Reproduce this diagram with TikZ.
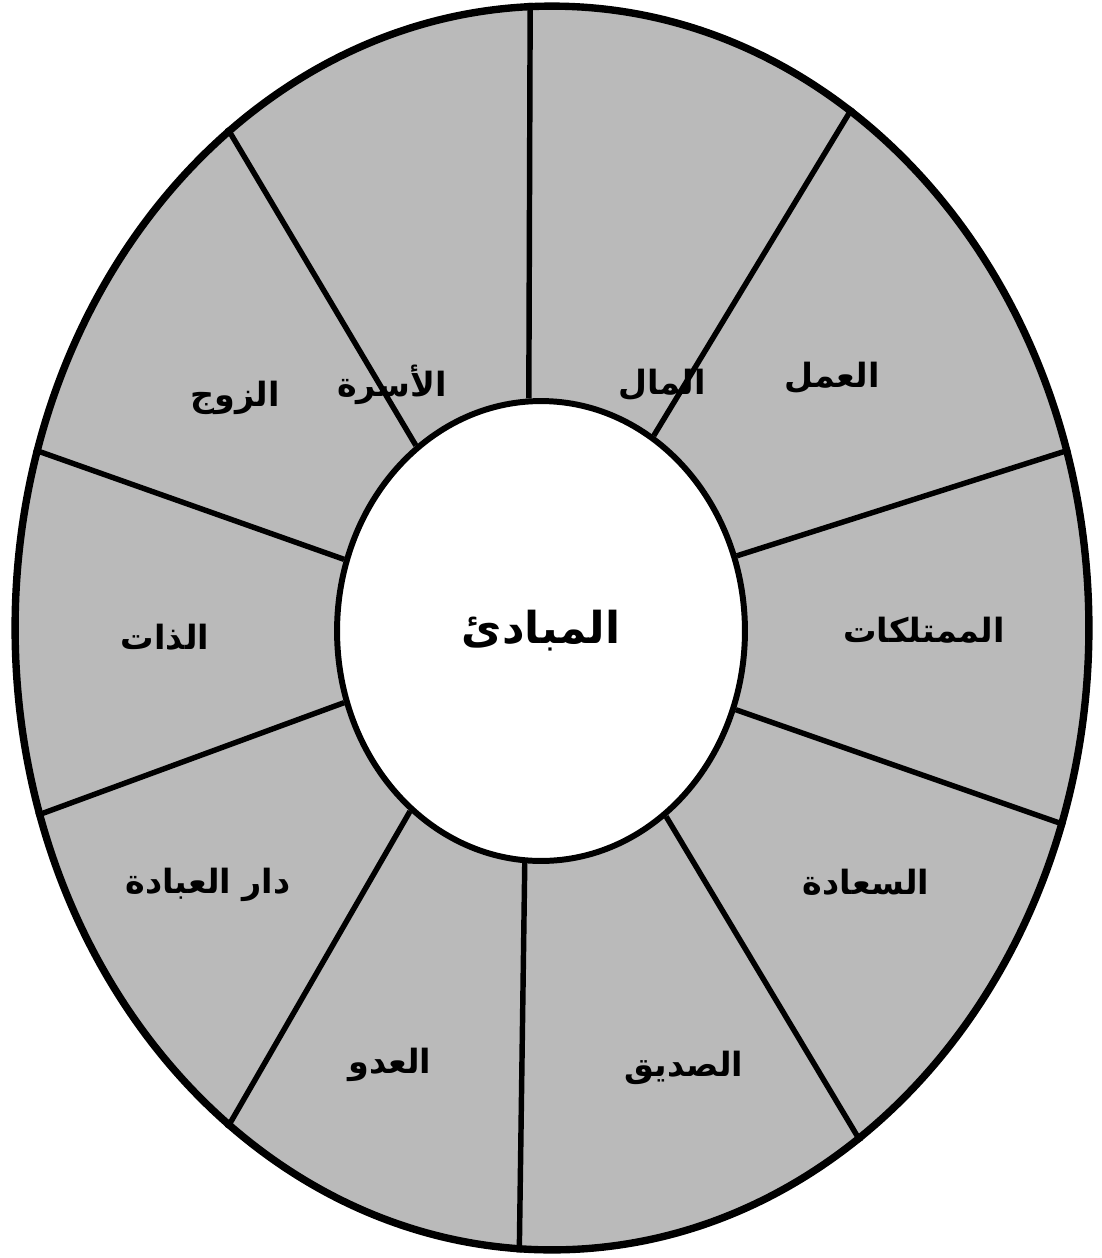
\documentclass[tikz,border=0pt]{standalone}
\usepackage{fontspec}
\usetikzlibrary{shapes.geometric}
\newfontfamily\arabicfont[Script=Arabic]{DejaVu Sans}
\TeXXeTstate=1

\begin{document}
\begin{tikzpicture}[x=0.02cm,y=-0.02cm,
  lbl/.style={font=\arabicfont\bfseries\fontsize{19}{23}\selectfont},
  spoke/.style={line width=3.1pt}]
\useasboundingbox (0,0) rectangle (1102,1258);
\node[ellipse,draw,line width=4.2pt,fill=black!27,minimum width=21.48cm,minimum height=24.88cm] (rim) at (552,628) {};
\node[ellipse,draw,line width=3.4pt,fill=white,inner sep=0pt,minimum width=8.16cm,minimum height=9.2cm,
  font=\arabicfont\bfseries\fontsize{25}{30}\selectfont] (hub) at (541,631) {\beginR المبادئ\endR};
\foreach \a/\b in {93/92,60/60,21/19,338/339,304/301,266/267,234/237,200/200,160/161,124/123}
  \draw[spoke] (hub.\a)--(rim.\b);
\node[lbl] (mal) at (662,385) {\beginR المال\endR};
\node[lbl] (amal) at (832,378) {\beginR العمل\endR};
\node[lbl] (mumtalakat) at (924,630) {\beginR الممتلكات\endR};
\node[lbl] (saada) at (866,882) {\beginR السعادة\endR};
\node[lbl] (sadiq) at (684,1068) {\beginR الصديق\endR};
\node[lbl] (aduw) at (390,1065) {\beginR العدو\endR};
\node[lbl] (ibada) at (208,885) {\beginR دار العبادة\endR};
\node[lbl] (dhat) at (165,637) {\beginR الذات\endR};
\node[lbl] (zawj) at (235,398) {\beginR الزوج\endR};
\node[lbl] (usra) at (392,385) {\beginR الأسرة\endR};
\end{tikzpicture}
\end{document}
